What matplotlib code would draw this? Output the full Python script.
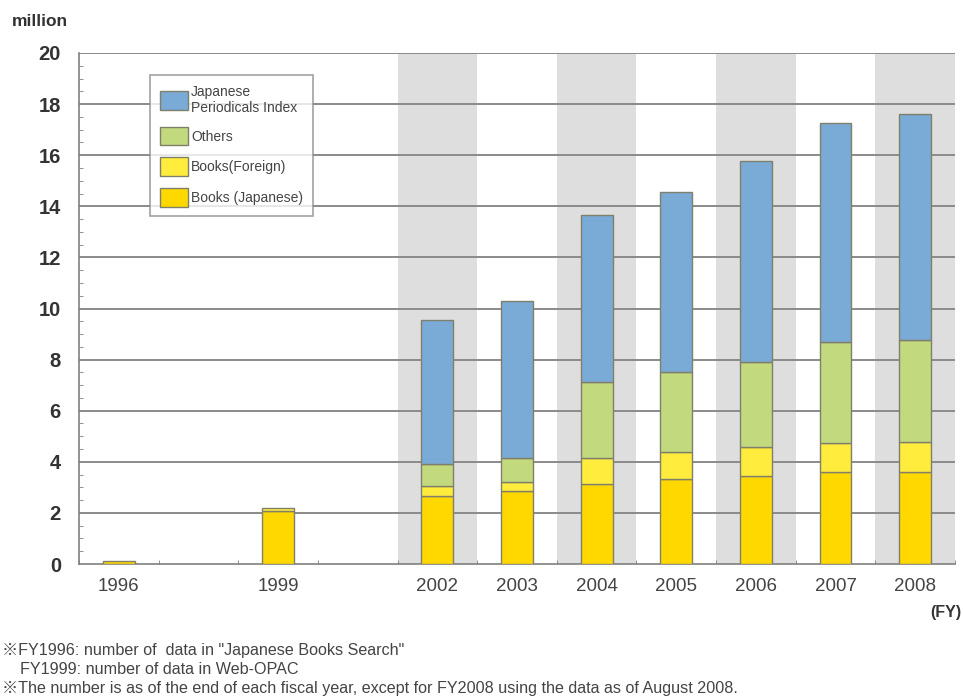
import numpy as np
import matplotlib
matplotlib.use("Agg")
import matplotlib.pyplot as plt
from matplotlib.patches import Patch
from matplotlib.ticker import MultipleLocator

# Category slots along the x axis (blank slots keep the spacing between years)
categories = ["1996", "", "1999", "", "2002", "2003", "2004", "2005", "2006", "2007", "2008"]
shaded = ["2002", "2004", "2006", "2008"]

# Values in millions of records (NaN = no bar in that slot)
books_japanese = [0.12, np.nan, 2.09, np.nan, 2.66, 2.85, 3.12, 3.31, 3.44, 3.60, 3.60]
books_foreign  = [0.00, np.nan, 0.09, np.nan, 0.39, 0.36, 1.04, 1.09, 1.12, 1.13, 1.18]
others         = [0.00, np.nan, 0.00, np.nan, 0.85, 0.95, 2.97, 3.12, 3.35, 3.97, 4.00]
periodicals    = [0.00, np.nan, 0.00, np.nan, 5.66, 6.12, 6.54, 7.03, 7.86, 8.57, 8.82]

series = [
    ("Books (Japanese)", books_japanese, "#FFD800"),
    ("Books(Foreign)", books_foreign, "#FFEC3D"),
    ("Others", others, "#C2D97E"),
    ("Japanese\nPeriodicals Index", periodicals, "#79ABD6"),
]

sans = ["Liberation Sans", "Noto Sans CJK JP", "DejaVu Sans"]

fig = plt.figure(figsize=(9.63, 7.0), dpi=100)
ax = fig.add_axes([79 / 963, 136 / 700, 876 / 963, 511 / 700])

x = np.arange(len(categories))
ax.set_xlim(-0.5, len(categories) - 0.5)
ax.set_ylim(0, 20)

# alternating grey bands behind the later years
for i, c in enumerate(categories):
    if c in shaded:
        ax.axvspan(i - 0.5, i + 0.5, color="#DEDEDE", zorder=0, lw=0)

# horizontal gridlines
for v in range(2, 21, 2):
    ax.axhline(v, color="#8A8A8A", lw=1.4, zorder=1)

bottom = np.zeros(len(categories))
for name, vals, col in series:
    vals = np.array(vals, dtype=float)
    mask = ~np.isnan(vals) & (vals > 0)
    ax.bar(x[mask], vals[mask], bottom=bottom[mask], width=0.4, color=col,
           edgecolor="#7F7F6A", linewidth=1.0, zorder=3)
    bottom = bottom + np.nan_to_num(vals)

# axes styling
for s in ["top", "right"]:
    ax.spines[s].set_visible(False)
for s in ["left", "bottom"]:
    ax.spines[s].set_color("#808080")
    ax.spines[s].set_linewidth(1.2)

ax.yaxis.set_major_locator(MultipleLocator(2))
ax.yaxis.set_minor_locator(MultipleLocator(0.5))
ax.tick_params(axis="y", which="major", direction="in", length=0, pad=13,
               labelsize=14.5, labelcolor="#333333")
ax.tick_params(axis="y", which="minor", direction="in", length=3, color="#808080")
for lab in ax.get_yticklabels():
    lab.set_fontweight("bold")
    lab.set_family(sans)

ax.set_xticks(x)
ax.set_xticklabels(categories, family=sans, fontsize=13.5, color="#444444")
ax.tick_params(axis="x", which="major", length=0, pad=10)
ax.set_xticks(np.arange(-0.5, len(categories), 1.0), minor=True)
ax.tick_params(axis="x", which="minor", direction="in", length=3, color="#808080")

fig.text(12 / 963, 1 - 22 / 700, "million", family=sans, fontsize=12.5,
         fontweight="bold", color="#333333", va="center")
fig.text(961 / 963, 1 - 613 / 700, "(FY)", family=sans, fontsize=11.5,
         fontweight="bold", color="#333333", va="center", ha="right")

# legend, top entry first
handles = [Patch(facecolor=col, edgecolor="#7F7F6A", label=name)
           for name, _, col in series[::-1]]
leg = ax.legend(handles=handles, loc="upper left",
                bbox_to_anchor=(150 / 963, 1 - 75 / 700),
                bbox_transform=fig.transFigure, borderaxespad=0,
                prop={"family": sans, "size": 10},
                frameon=True, fancybox=False, edgecolor="#8A8A8A",
                handlelength=2.0, handleheight=1.7, labelspacing=0.85,
                borderpad=0.7, handletextpad=0.25)
leg.get_frame().set_linewidth(1.2)
leg.set_zorder(5)
for t in leg.get_texts():
    t.set_color("#444444")

notes = [
    "※FY1996: number of  data in \"Japanese Books Search\"",
    "    FY1999: number of data in Web-OPAC",
    "※The number is as of the end of each fiscal year, except for FY2008 using the data as of August 2008.",
]
for k, line in enumerate(notes):
    fig.text(2 / 963, 1 - (650 + k * 19) / 700, line, family=sans,
             fontsize=11.6, color="#444444", va="center")

fig.savefig("out.png", dpi=100)
